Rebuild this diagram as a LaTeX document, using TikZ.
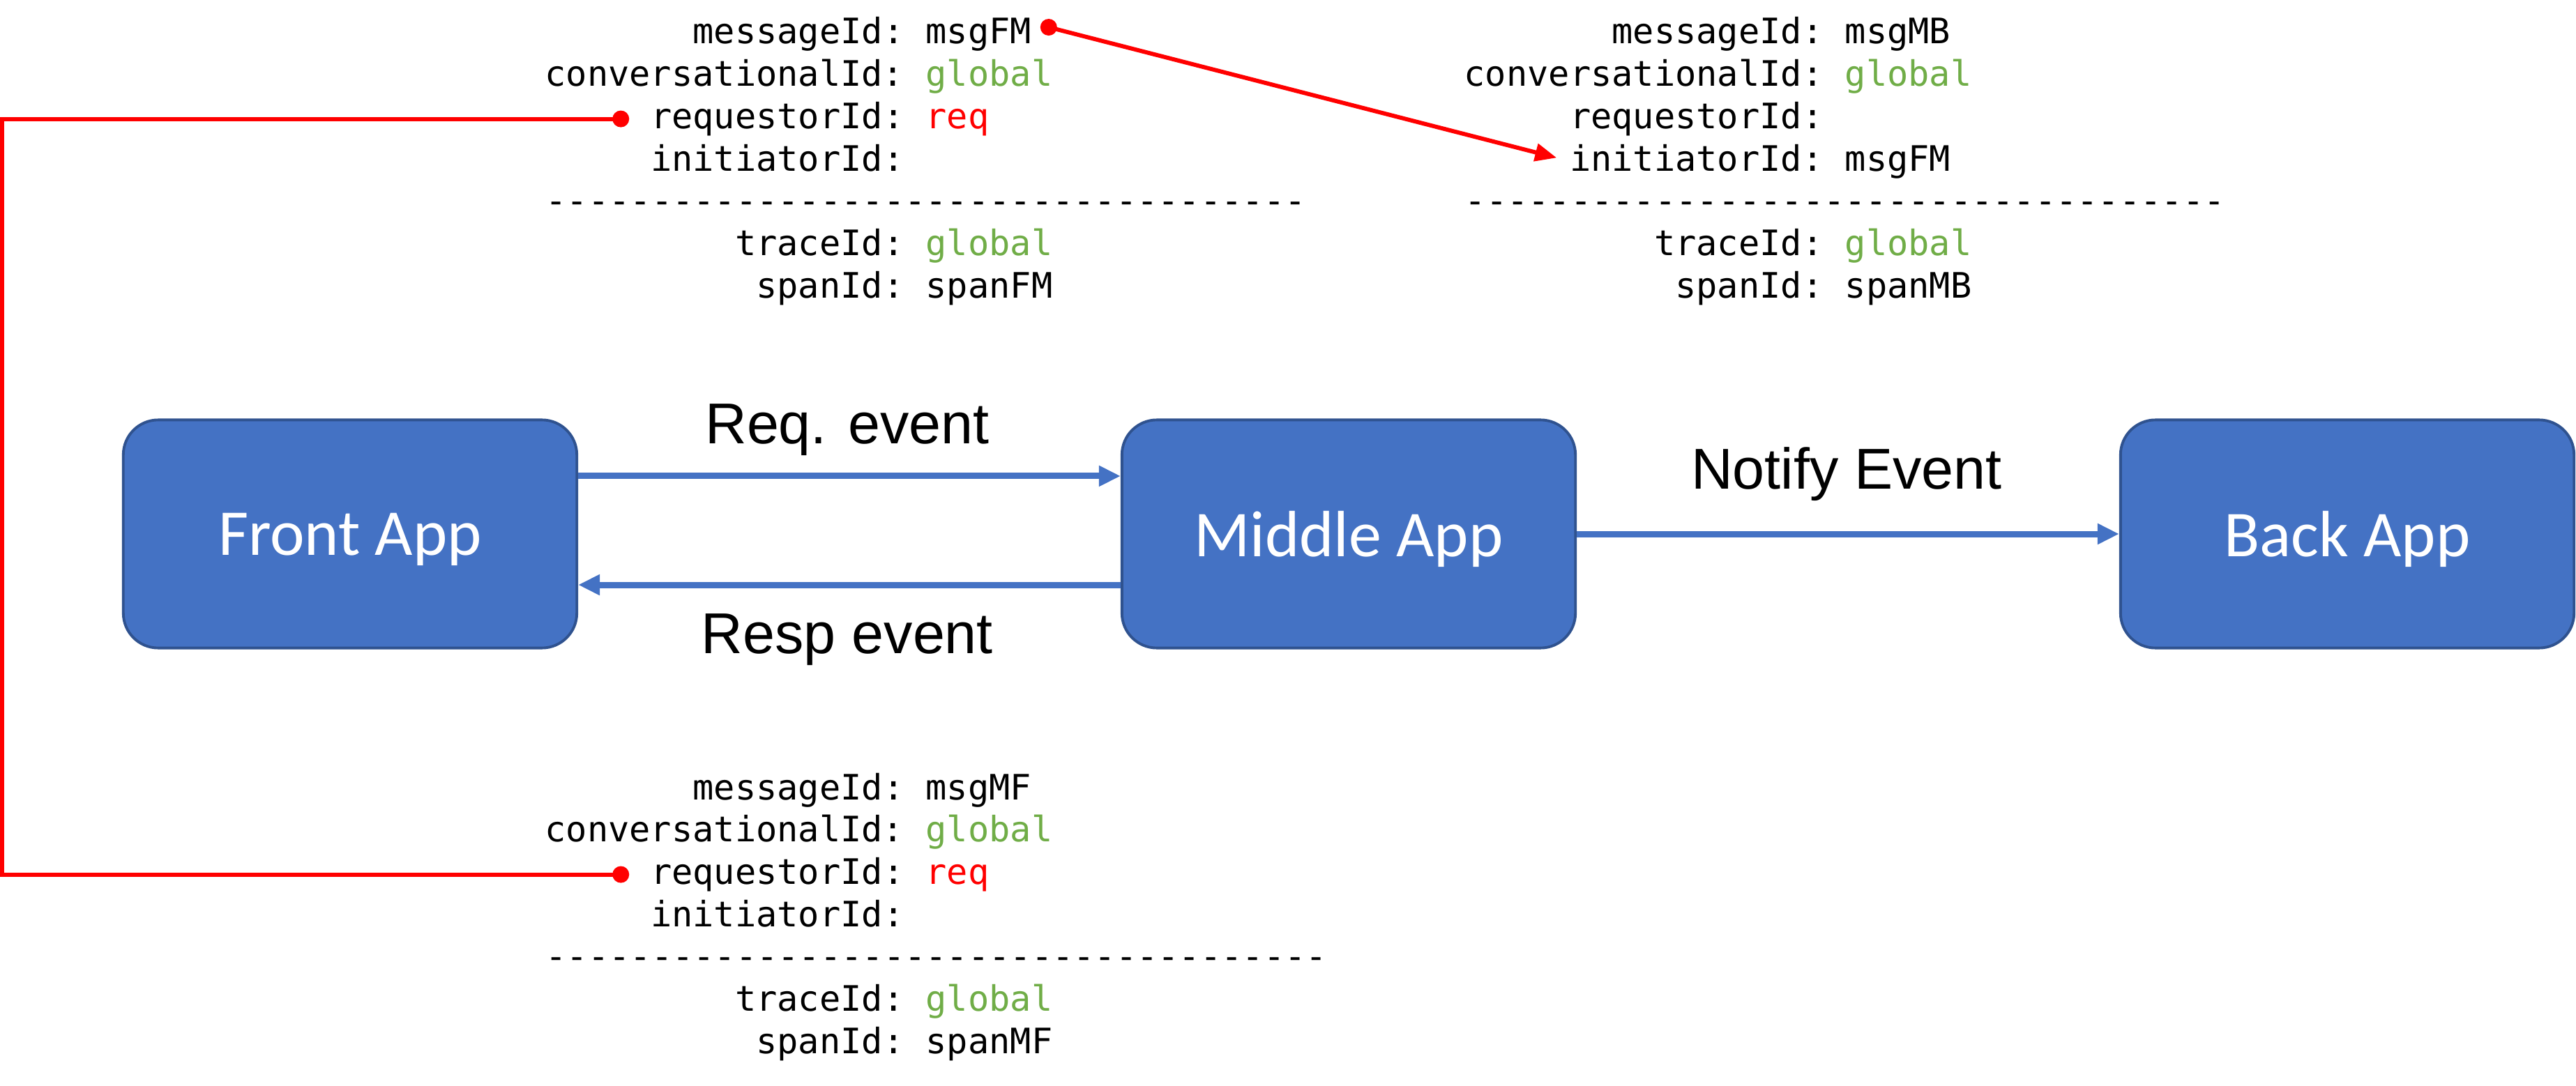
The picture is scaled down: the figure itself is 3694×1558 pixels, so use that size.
\documentclass[tikz,border=0pt]{standalone}
\usepackage{fontspec}
\setmonofont{DejaVu Sans Mono}
\newfontfamily\labelfont{Liberation Sans}
\newfontfamily\appfont{Carlito}
\usetikzlibrary{arrows.meta}

\definecolor{appblue}{HTML}{4472C4}
\definecolor{appedge}{HTML}{2F528F}
\definecolor{idgreen}{HTML}{70AD47}

\tikzset{
  app/.style={draw=appedge, line width=1.1pt, fill=appblue, rounded corners=0.5cm,
    minimum width=6.5cm, minimum height=3.27cm, text=white, text depth=0pt,
    font=\appfont\fontsize{26.7}{32}\selectfont},
  flow/.style={draw=appblue, line width=2.56pt, -{Triangle[length=8.8pt,width=8pt]}},
  evlabel/.style={font=\labelfont\fontsize{23.5}{28}\selectfont, anchor=base, inner sep=0pt},
  fieldkey/.style={font=\ttfamily\fontsize{14.3}{17.3}\selectfont, anchor=base east, inner sep=0pt},
  fieldval/.style={font=\ttfamily\fontsize{14.3}{17.3}\selectfont, anchor=base west, inner sep=0pt},
  link/.style={draw=red, line width=1.7pt},
}

\begin{document}
\begin{tikzpicture}[x=0.01cm,y=-0.01cm]
    \useasboundingbox (0,0) rectangle (3694,1558);
    % apps
    \node[app] (front) at (502,766) {Front App};
    \node[app] (middle) at (1934,766) {Middle App};
    \node[app] (back) at (3366,766) {Back App};
    % events
    \draw[flow] ([yshift=0.83cm]front.east) -- ([yshift=0.83cm]middle.west);
    \draw[flow] ([yshift=-0.73cm]middle.west) -- ([yshift=-0.73cm]front.east);
    \draw[flow] (middle.east) -- (back.west);
    \node[evlabel] (reqlabel) at (1215,636) {Req. event};
    \node[evlabel] (resplabel) at (1215,937) {Resp event};
    \node[evlabel] (notifylabel) at (2648,701) {Notify Event};
    % front -> middle message
    \begin{scope}[shift={(1297,63)}]
      \node[fieldkey] (fm-msg-k) at (0,0) {messageId:};
      \node[fieldval] (fm-msg-v) at (30,0) {msgFM};
      \node[fieldkey] (fm-conv-k) at (0,60.7) {conversationalId:};
      \node[fieldval, text=idgreen] (fm-conv-v) at (30,60.7) {global};
      \node[fieldkey] (fm-req-k) at (0,121.4) {requestorId:};
      \node[fieldval, text=red] (fm-req-v) at (30,121.4) {req};
      \node[fieldkey] (fm-init-k) at (0,182.1) {initiatorId:};
      \node[fieldval] (fm-rule) at (-515,242.8) {------------------------------------};
      \node[fieldkey] (fm-trace-k) at (0,303.5) {traceId:};
      \node[fieldval, text=idgreen] (fm-trace-v) at (30,303.5) {global};
      \node[fieldkey] (fm-span-k) at (0,364.2) {spanId:};
      \node[fieldval] (fm-span-v) at (30,364.2) {spanFM};
    \end{scope}
    % middle -> back message
    \begin{scope}[shift={(2615,63)}]
      \node[fieldkey] (mb-msg-k) at (0,0) {messageId:};
      \node[fieldval] (mb-msg-v) at (30,0) {msgMB};
      \node[fieldkey] (mb-conv-k) at (0,60.7) {conversationalId:};
      \node[fieldval, text=idgreen] (mb-conv-v) at (30,60.7) {global};
      \node[fieldkey] (mb-req-k) at (0,121.4) {requestorId:};
      \node[fieldkey] (mb-init-k) at (0,182.1) {initiatorId:};
      \node[fieldval] (mb-init-v) at (30,182.1) {msgFM};
      \node[fieldval] (mb-rule) at (-515,242.8) {------------------------------------};
      \node[fieldkey] (mb-trace-k) at (0,303.5) {traceId:};
      \node[fieldval, text=idgreen] (mb-trace-v) at (30,303.5) {global};
      \node[fieldkey] (mb-span-k) at (0,364.2) {spanId:};
      \node[fieldval] (mb-span-v) at (30,364.2) {spanMB};
    \end{scope}
    % middle -> front message
    \begin{scope}[shift={(1297,1147)}]
      \node[fieldkey] (mf-msg-k) at (0,0) {messageId:};
      \node[fieldval] (mf-msg-v) at (30,0) {msgMF};
      \node[fieldkey] (mf-conv-k) at (0,60.7) {conversationalId:};
      \node[fieldval, text=idgreen] (mf-conv-v) at (30,60.7) {global};
      \node[fieldkey] (mf-req-k) at (0,121.4) {requestorId:};
      \node[fieldval, text=red] (mf-req-v) at (30,121.4) {req};
      \node[fieldkey] (mf-init-k) at (0,182.1) {initiatorId:};
      \node[fieldval] (mf-rule) at (-515,242.8) {-------------------------------------};
      \node[fieldkey] (mf-trace-k) at (0,303.5) {traceId:};
      \node[fieldval, text=idgreen] (mf-trace-v) at (30,303.5) {global};
      \node[fieldkey] (mf-span-k) at (0,364.2) {spanId:};
      \node[fieldval] (mf-span-v) at (30,364.2) {spanMF};
    \end{scope}
    % red links
    \coordinate (fm-dot) at ([xshift=-0.42cm]fm-req-k.west);
    \coordinate (mf-dot) at ([xshift=-0.42cm]mf-req-k.west);
    \coordinate (fm-out) at ([xshift=0.24cm,yshift=0.11cm]fm-msg-v.east);
    \coordinate (mb-in) at ([xshift=-0.18cm]mb-init-k.west);
    \draw[link] (fm-dot) -- ++(-887,0) |- (mf-dot);
    \draw[link, -{Triangle[length=8.8pt,width=7.1pt]}] (fm-out) -- (mb-in);
    \fill[red] (fm-dot) circle[radius=0.12cm] (mf-dot) circle[radius=0.12cm] (fm-out) circle[radius=0.12cm];
\end{tikzpicture}
\end{document}
